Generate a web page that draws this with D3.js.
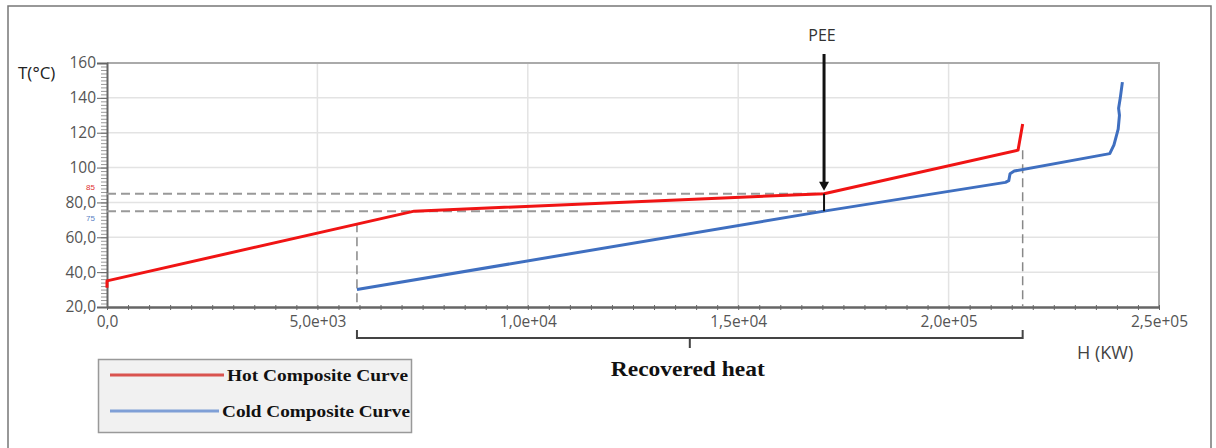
<!DOCTYPE html>
<html>
<head>
<meta charset="utf-8">
<script src="https://cdn.jsdelivr.net/npm/d3@7"></script>
<style>
  body { margin: 0; background: #fff; }
  svg { display: block; }
</style>
</head>
<body>
<svg id="chart" width="1216" height="448"></svg>
<script>
// composite curves: enthalpy H (kW) vs temperature T (°C)
const hotH  = [0, 0, 73000, 170400, 216500, 217600];
const hotT  = [31, 35, 75, 85, 110, 125];
const coldH = [59400, 170400, 213500, 214300, 214600, 215600, 238300, 239300, 240300, 240600, 240400, 240800, 241300];
const coldT = [30, 75, 91.5, 92.5, 96.5, 98, 108, 113, 122, 130, 134, 140, 149];

const xTicks = [0, 50000, 100000, 150000, 200000, 250000];
const xTickLabels = ['0,0', '5,0e+03', '1,0e+04', '1,5e+04', '2,0e+05', '2,5e+05'];
const yTicks = [20, 40, 60, 80, 100, 120, 140, 160];
const yTickLabels = ['20,0', '40,0', '60,0', '80,0', '100', '120', '140', '160'];

const pinchH = 170400;       // PEE
const pinchHot = 85, pinchCold = 75;
const recStart = 59400, recEnd = 217600;

const svg = d3.select('#chart');
const m = {left: 107, right: 1216 - 1159, top: 63, bottom: 448 - 307};
const W = 1216 - m.left - m.right, H = 448 - m.top - m.bottom;

const x = d3.scaleLinear().domain([0, 250000]).range([m.left, m.left + W]);
const y = d3.scaleLinear().domain([20, 160]).range([m.top + H, m.top]);

const tickFont = g => g.selectAll('.tick text')
  .attr('font-family', '"Open Sans", "Liberation Sans", sans-serif')
  .attr('font-size', 15.5).attr('fill', '#555');

// outer frame
svg.append('path').attr('d', 'M8,448 V6 H1211 V448')
  .attr('fill', 'none').attr('stroke', '#777').attr('stroke-width', 1.5);

// grid
svg.append('g').selectAll('line').data(yTicks.slice(1, -1)).join('line')
  .attr('x1', m.left).attr('x2', m.left + W)
  .attr('y1', d => y(d)).attr('y2', d => y(d))
  .attr('stroke', '#e3e3e3').attr('stroke-width', 1.5);
svg.append('g').selectAll('line').data(xTicks.slice(1, -1)).join('line')
  .attr('y1', m.top).attr('y2', m.top + H)
  .attr('x1', d => x(d)).attr('x2', d => x(d))
  .attr('stroke', '#e3e3e3').attr('stroke-width', 1.5);

// plot frame top/right
svg.append('path').attr('d', `M${m.left},${m.top} H${m.left + W} V${m.top + H}`)
  .attr('fill', 'none').attr('stroke', '#aaa').attr('stroke-width', 2);

// minor ticks
svg.append('g').attr('transform', `translate(${m.left},0)`)
  .call(d3.axisLeft(y).tickValues(d3.range(20, 161, 2)).tickSize(6).tickFormat(''))
  .call(g => g.select('.domain').remove())
  .selectAll('line').attr('stroke', '#999');
svg.append('g').attr('transform', `translate(0,${m.top + H - 2})`)
  .call(d3.axisBottom(x).tickValues(d3.range(0, 250001, 5000)).tickSize(5).tickFormat(''))
  .call(g => g.select('.domain').remove())
  .selectAll('line').attr('stroke', '#666');

// axes
svg.append('g').attr('transform', `translate(${m.left},0)`)
  .call(d3.axisLeft(y).tickValues(yTicks).tickSize(10).tickPadding(1)
    .tickFormat((d, i) => yTickLabels[i]))
  .call(g => g.select('.domain').attr('stroke', '#666').attr('stroke-width', 2))
  .call(g => g.selectAll('.tick line').attr('stroke', '#666'))
  .call(tickFont);
svg.append('g').attr('transform', `translate(0,${m.top + H})`)
  .call(d3.axisBottom(x).tickValues(xTicks).tickSize(0).tickPadding(9)
    .tickFormat((d, i) => xTickLabels[i]))
  .call(g => g.select('.domain').attr('stroke', '#666').attr('stroke-width', 2.5))
  .call(tickFont);

// dashed guides
const dash = '9,5';
svg.append('g').selectAll('line').data([pinchHot, pinchCold]).join('line')
  .attr('x1', m.left).attr('x2', x(pinchH))
  .attr('y1', d => y(d)).attr('y2', d => y(d))
  .attr('stroke', '#999').attr('stroke-width', 2).attr('stroke-dasharray', dash);
svg.append('line')
  .attr('x1', x(recStart)).attr('x2', x(recStart))
  .attr('y1', y(68)).attr('y2', y(20))
  .attr('stroke', '#888').attr('stroke-width', 1.5).attr('stroke-dasharray', dash);
svg.append('line')
  .attr('x1', x(recEnd)).attr('x2', x(recEnd))
  .attr('y1', y(110)).attr('y2', y(20))
  .attr('stroke', '#888').attr('stroke-width', 1.5).attr('stroke-dasharray', dash);

// curves
const line = d3.line().x(d => x(d[0])).y(d => y(d[1]));
svg.append('path').datum(d3.zip(coldH, coldT)).attr('d', line)
  .attr('fill', 'none').attr('stroke', '#3f6fc0').attr('stroke-width', 3).attr('stroke-linejoin', 'round');
svg.append('path').datum(d3.zip(hotH, hotT)).attr('d', line)
  .attr('fill', 'none').attr('stroke', '#f01414').attr('stroke-width', 3).attr('stroke-linejoin', 'round');

// pinch gap line
svg.append('line').attr('x1', x(pinchH)).attr('x2', x(pinchH))
  .attr('y1', y(pinchHot)).attr('y2', y(pinchCold))
  .attr('stroke', '#111').attr('stroke-width', 2);

// PEE arrow
svg.append('line').attr('x1', x(pinchH)).attr('x2', x(pinchH))
  .attr('y1', 54).attr('y2', y(pinchHot) - 8)
  .attr('stroke', '#111').attr('stroke-width', 3);
svg.append('path')
  .attr('d', `M${x(pinchH) - 5},${y(pinchHot) - 12} L${x(pinchH) + 5},${y(pinchHot) - 12} L${x(pinchH)},${y(pinchHot) - 3} Z`)
  .attr('fill', '#111');
svg.append('text').attr('x', x(pinchH) - 2).attr('y', 41).attr('text-anchor', 'middle')
  .attr('font-family', '"Open Sans", sans-serif').attr('font-size', 16).attr('fill', '#333')
  .text('PEE');

// small value labels
svg.append('text').attr('x', 86).attr('y', y(pinchHot) - 4).attr('font-size', 8)
  .attr('font-family', 'Liberation Sans, sans-serif').attr('fill', '#e03030').text('85');
svg.append('text').attr('x', 86).attr('y', y(pinchCold) + 10).attr('font-size', 8)
  .attr('font-family', 'Liberation Sans, sans-serif').attr('fill', '#5a7fc4').text('75');

// axis titles
svg.append('text').attr('x', 18).attr('y', 79)
  .attr('font-family', '"Open Sans", sans-serif').attr('font-size', 17).attr('fill', '#222')
  .text('T(°C)');
svg.append('text').attr('x', 1077).attr('y', 359)
  .attr('font-family', '"Open Sans", sans-serif').attr('font-size', 18).attr('fill', '#444')
  .text('H (KW)');

// recovered heat bracket
const bx0 = x(recStart), bx1 = x(recEnd), bmid = (bx0 + bx1) / 2;
svg.append('path')
  .attr('d', `M${bx0},330 V338 H${bx1} V330 M${bmid},338 V348`)
  .attr('fill', 'none').attr('stroke', '#444').attr('stroke-width', 2);
svg.append('text').attr('x', bmid - 2).attr('y', 376).attr('text-anchor', 'middle')
  .attr('font-family', '"Liberation Serif", serif').attr('font-weight', 'bold')
  .attr('font-size', 21).attr('fill', '#111')
  .attr('textLength', 154).attr('lengthAdjust', 'spacingAndGlyphs')
  .text('Recovered heat');

// legend
const lg = svg.append('g');
lg.append('rect').attr('x', 98.5).attr('y', 359.5).attr('width', 313).attr('height', 73)
  .attr('fill', '#f1f1f1').attr('stroke', '#999').attr('stroke-width', 1.5);
const legend = [
  {name: 'Hot Composite Curve', color: '#d9534f', y: 375, tx: 227, tw: 181},
  {name: 'Cold Composite Curve', color: '#7f9fd6', y: 411, tx: 222, tw: 188}
];
legend.forEach(d => {
  lg.append('line').attr('x1', 110).attr('x2', d.tx - 3).attr('y1', d.y).attr('y2', d.y)
    .attr('stroke', d.color).attr('stroke-width', 3);
  lg.append('text').attr('x', d.tx).attr('y', d.y + 6)
    .attr('font-family', '"Liberation Serif", serif').attr('font-weight', 'bold')
    .attr('font-size', 17).attr('fill', '#111')
    .attr('textLength', d.tw).attr('lengthAdjust', 'spacingAndGlyphs')
    .text(d.name);
});
</script>
</body>
</html>
